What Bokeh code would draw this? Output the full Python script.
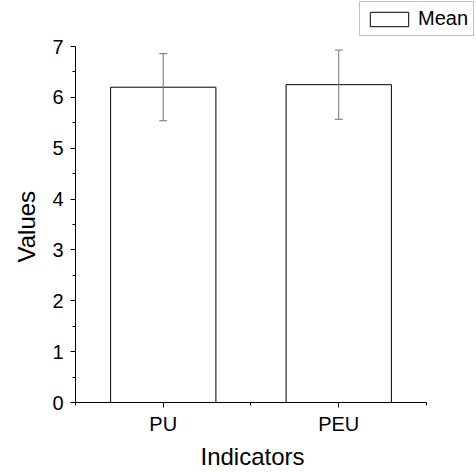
from bokeh.plotting import figure
from bokeh.models import ColumnDataSource, Whisker, Range1d, FixedTicker, Legend, LegendItem, Title
from bokeh.embed import file_html
from bokeh.resources import INLINE

categories = ["PU", "PEU"]
means = [6.2, 6.25]
upper = [6.86, 6.93]
lower = [5.54, 5.57]
series_name = "Mean"
x_title = "Indicators"
y_title = "Values"
y_ticks = [0, 1, 2, 3, 4, 5, 6, 7]

xpos = [i + 1 for i in range(len(categories))]
src = ColumnDataSource(dict(x=xpos, top=means, upper=upper, lower=lower, cat=categories))

# frame spans to the top/right page edges so the legend (outside the axes) is not clipped;
# the axes themselves are bounded to the visible data extent
p = figure(width=476, height=472, output_backend="svg", toolbar_location=None,
           x_range=Range1d(0.5, 2.785), y_range=Range1d(0, 7.905),
           min_border_left=75, min_border_right=0, min_border_top=0, min_border_bottom=70)
p.outline_line_color = None
p.xgrid.visible = False
p.ygrid.visible = False
p.background_fill_color = "white"
p.border_fill_color = "white"

bars = p.vbar(x="x", top="top", width=0.6, bottom=0, source=src,
              fill_color="white", line_color="black", line_width=1)

w = Whisker(base="x", upper="upper", lower="lower", source=src,
            line_color="#707070", line_width=1, level="overlay")
w.upper_head.size = 8
w.lower_head.size = 8
w.upper_head.line_color = "#707070"
w.lower_head.line_color = "#707070"
p.add_layout(w)

font = "Liberation Sans"
p.xaxis.bounds = (0.5, len(categories) + 0.5)
p.yaxis.bounds = (y_ticks[0], y_ticks[-1])
p.xaxis.ticker = FixedTicker(ticks=xpos, minor_ticks=[0.5 + i for i in range(len(categories) + 1)])
p.xaxis.major_label_overrides = {x: c for x, c in zip(xpos, categories)}
p.yaxis.ticker = FixedTicker(ticks=y_ticks, minor_ticks=[t + 0.5 for t in y_ticks[:-1]])

for ax in (p.xaxis[0], p.yaxis[0]):
    ax.axis_line_color = "black"
    ax.axis_line_width = 1
    ax.major_tick_line_color = "black"
    ax.minor_tick_line_color = "black"
    ax.major_tick_in = 0
    ax.major_tick_out = 5
    ax.minor_tick_in = 0
    ax.minor_tick_out = 3
    ax.major_label_text_font = font
    ax.major_label_text_font_size = "20px"
    ax.major_label_text_color = "black"

p.xaxis.major_label_standoff = 5
p.yaxis.major_label_standoff = 7

# axis titles centred on the bounded axes (not on the enlarged frame)
xt = Title(text=x_title, align="left", offset=125, standoff=6,
           text_font=font, text_font_size="24px", text_font_style="normal", text_color="black")
p.add_layout(xt, "below")
yt = Title(text=y_title, align="left", offset=140, standoff=20,
           text_font=font, text_font_size="24px", text_font_style="normal", text_color="black")
p.add_layout(yt, "left")

legend = Legend(items=[LegendItem(label=series_name, renderers=[bars])],
                location=(284, 366), orientation="vertical",
                glyph_width=48, glyph_height=18, padding=5, margin=0,
                label_text_font=font, label_text_font_size="20px", label_text_color="black",
                label_standoff=5, border_line_color="#888888", border_line_width=1,
                spacing=0, label_height=18)
p.add_layout(legend, "center")

open("out.html", "w").write(file_html(p, INLINE))
